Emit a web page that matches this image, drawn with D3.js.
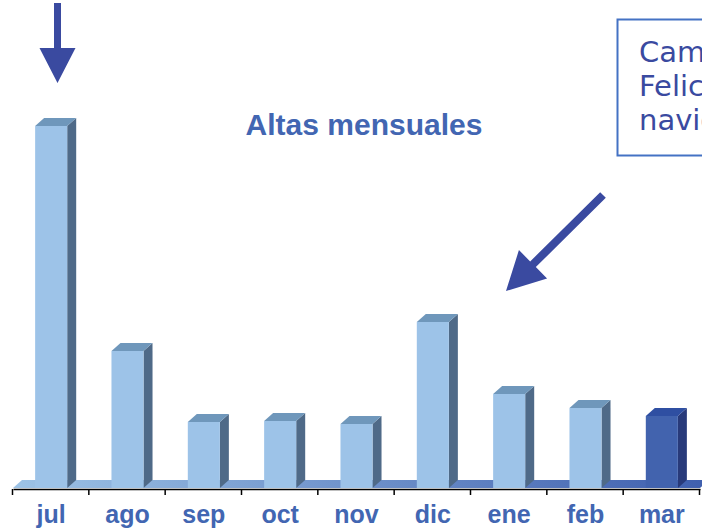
<!DOCTYPE html>
<html>
<head>
<meta charset="utf-8">
<script src="https://cdn.jsdelivr.net/npm/d3@7"></script>
<style>
  body { margin: 0; background: #fff; overflow: hidden; }
</style>
</head>
<body>
<div id="chart"></div>
<script>
const months = ['jul', 'ago', 'sep', 'oct', 'nov', 'dic', 'ene', 'feb', 'mar'];
const altas = [362, 137, 66, 67, 64, 166, 94, 80, 72];
const highlight = ['mar'];
const title = 'Altas mensuales';
const noteLines = ['Campaña', 'Felicitación', 'navideña'];

const width = 702;
const height = 531;
const margin = {top: 88, bottom: 43, left: 13, right: 2};
const depth = {dx: 9, dy: 8};

const svg = d3.select('#chart')
    .append('svg')
    .attr('width', width)
    .attr('height', height);

const x = d3.scaleBand()
    .domain(months)
    .range([margin.left, width - margin.right])
    .paddingInner(0.58)
    .paddingOuter(0.29);

const y = d3.scaleLinear()
    .domain([0, 400])
    .range([height - margin.bottom, margin.top]);

const defs = svg.append('defs');
const grad = defs.append('linearGradient')
    .attr('id', 'floor')
    .attr('x1', '0%').attr('x2', '100%');
grad.append('stop').attr('offset', '0%').attr('stop-color', '#9dc3e6');
grad.append('stop').attr('offset', '100%').attr('stop-color', '#3f5fae');

// floor
const y0 = y(0);
svg.append('path')
    .attr('d', `M${margin.left},${y0} L${margin.left + depth.dx},${y0 - depth.dy}
        L${width - margin.right + depth.dx},${y0 - depth.dy} L${width - margin.right},${y0} Z`)
    .attr('fill', 'url(#floor)');

// bars
const colors = {
    normal: {front: '#9dc3e8', side: '#4f6a88', top: '#6f97bb'},
    hi: {front: '#4263ae', side: '#283a7a', top: '#2f4fa2'}
};
const bars = svg.append('g')
    .selectAll('g')
    .data(months.map((m, i) => ({month: m, value: altas[i]})))
    .join('g');

bars.each(function(d) {
    const g = d3.select(this);
    const c = highlight.includes(d.month) ? colors.hi : colors.normal;
    const x0 = x(d.month), x1 = x0 + x.bandwidth();
    const yt = y(d.value);
    g.append('path')
        .attr('d', `M${x1},${y0} L${x1},${yt} L${x1 + depth.dx},${yt - depth.dy} L${x1 + depth.dx},${y0 - depth.dy} Z`)
        .attr('fill', c.side);
    g.append('path')
        .attr('d', `M${x0},${yt} L${x0 + depth.dx},${yt - depth.dy} L${x1 + depth.dx},${yt - depth.dy} L${x1},${yt} Z`)
        .attr('fill', c.top);
    g.append('rect')
        .attr('x', x0)
        .attr('y', yt)
        .attr('width', x.bandwidth())
        .attr('height', y0 - yt)
        .attr('fill', c.front);
});

// x axis
const xAxis = svg.append('g')
    .attr('transform', `translate(0, ${y0 + 1})`)
    .call(d3.axisBottom(x).tickSize(0));
xAxis.select('.domain').attr('stroke', '#000').attr('stroke-width', 1.5);
xAxis.selectAll('text')
    .attr('y', 34)
    .attr('dy', 0)
    .attr('font-family', 'Liberation Sans, Arial, sans-serif')
    .attr('font-size', '25px')
    .attr('font-weight', 'bold')
    .attr('fill', '#4266b2');
// ticks sit between the categories
xAxis.selectAll('.edge')
    .data(d3.range(months.length + 1))
    .join('line')
    .attr('x1', i => margin.left + i * x.step() - 0.5)
    .attr('x2', i => margin.left + i * x.step() - 0.5)
    .attr('y1', 0).attr('y2', 6)
    .attr('stroke', '#000')
    .attr('stroke-width', 1.5);

// title
svg.append('text')
    .attr('x', 364)
    .attr('y', 135)
    .attr('text-anchor', 'middle')
    .attr('font-family', 'Liberation Sans, Arial, sans-serif')
    .attr('font-size', '30px')
    .attr('font-weight', 'bold')
    .attr('fill', '#4266b2')
    .text(title);

// arrows
const arrowColor = '#3a4aa0';
function arrow(x1, y1, x2, y2, shaft, headW, headL) {
    const ang = Math.atan2(y2 - y1, x2 - x1);
    const len = Math.hypot(x2 - x1, y2 - y1);
    const g = svg.append('g')
        .attr('transform', `translate(${x1},${y1}) rotate(${ang * 180 / Math.PI})`);
    g.append('path')
        .attr('d', `M0,${-shaft / 2} L${len - headL},${-shaft / 2} L${len - headL},${-headW / 2}
            L${len},0 L${len - headL},${headW / 2} L${len - headL},${shaft / 2} L0,${shaft / 2} Z`)
        .attr('fill', arrowColor);
}
arrow(57.5, 3, 57.5, 83, 7, 36, 35);
arrow(603, 195, 506, 291, 8, 40, 38);

// note box (runs off the right edge, as in the slide)
svg.append('rect')
    .attr('x', 617.5)
    .attr('y', 19.5)
    .attr('width', 120)
    .attr('height', 136)
    .attr('fill', 'none')
    .attr('stroke', '#4472c4')
    .attr('stroke-width', 2);
svg.append('text')
    .attr('font-family', 'DejaVu Sans, Verdana, sans-serif')
    .attr('font-size', '29px')
    .attr('fill', '#3a4aa0')
    .selectAll('tspan')
    .data(noteLines)
    .join('tspan')
    .attr('x', 639)
    .attr('y', (d, i) => 62 + i * 34)
    .text(d => d);
</script>
</body>
</html>
